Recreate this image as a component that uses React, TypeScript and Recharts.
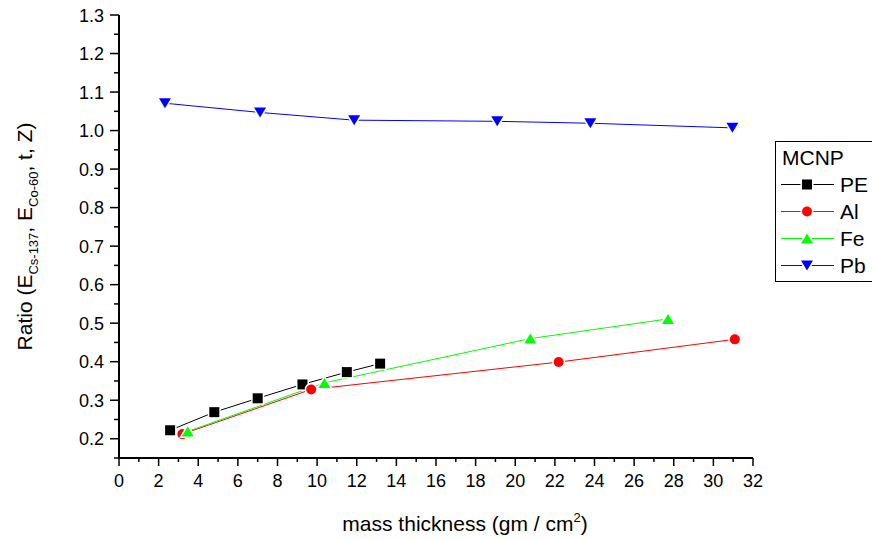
import React from "react";
import { LineChart, Line, XAxis, YAxis, Legend, Label } from "recharts";

// Mass thickness (gm / cm^2) and ratio values for each material
const peX = [2.58, 4.81, 7.0, 9.26, 11.5, 13.18];
const peY = [0.222, 0.269, 0.305, 0.341, 0.373, 0.395];

const alX = [3.2, 9.7, 22.19, 31.08];
const alY = [0.212, 0.328, 0.399, 0.458];

const feX = [3.47, 10.37, 20.76, 27.71];
const feY = [0.219, 0.345, 0.46, 0.511];

const pbX = [2.32, 7.12, 11.87, 19.09, 23.79, 30.96];
const pbY = [1.071, 1.047, 1.027, 1.024, 1.019, 1.007];

const xTicks = [0, 1, 2, 3, 4, 5, 6, 7, 8, 9, 10, 11, 12, 13, 14, 15, 16, 17, 18, 19, 20, 21, 22, 23, 24, 25, 26, 27, 28, 29, 30, 31, 32];
const yTicks = [0.15, 0.2, 0.25, 0.3, 0.35, 0.4, 0.45, 0.5, 0.55, 0.6, 0.65, 0.7, 0.75, 0.8, 0.85, 0.9, 0.95, 1.0, 1.05, 1.1, 1.15, 1.2, 1.25, 1.3];

const legendTitle = "MCNP";

type Kind = "square" | "circle" | "up" | "down";

const zip = (xs: number[], ys: number[]) => xs.map((x, i) => ({ x, y: ys[i] }));

const series = [
  { name: "PE", color: "#000000", kind: "square" as Kind, data: zip(peX, peY) },
  { name: "Al", color: "#ff0000", kind: "circle" as Kind, data: zip(alX, alY) },
  { name: "Fe", color: "#00ff00", kind: "up" as Kind, data: zip(feX, feY) },
  { name: "Pb", color: "#0000ff", kind: "down" as Kind, data: zip(pbX, pbY) },
];

const FONT = "'Liberation Sans', Arial, sans-serif";
const TICK_FONT = 18;
const TITLE_FONT = 21;

// Marker with a white halo so connecting lines stop short of the symbol
function Marker({ cx, cy, kind, color }: { cx: number; cy: number; kind: Kind; color: string }) {
  const common = { fill: color, stroke: "#ffffff", strokeWidth: 3, paintOrder: "stroke" as const };
  if (kind === "square") {
    return <rect x={cx - 5} y={cy - 5} width={10} height={10} {...common} />;
  }
  if (kind === "circle") {
    return <circle cx={cx} cy={cy} r={5} {...common} />;
  }
  if (kind === "up") {
    return <polygon points={`${cx - 6},${cy + 5} ${cx + 6},${cy + 5} ${cx},${cy - 5}`} {...common} />;
  }
  return <polygon points={`${cx - 6},${cy - 5} ${cx + 6},${cy - 5} ${cx},${cy + 5}`} {...common} />;
}

const isMajorY = (v: number) => Math.abs(v * 10 - Math.round(v * 10)) < 1e-6;

function YTick(props: any) {
  const { x, y, payload } = props;
  const v = payload.value as number;
  const major = isMajorY(v);
  return (
    <g>
      <line x1={x - (major ? 9 : 5)} x2={x} y1={y} y2={y} stroke="#000" strokeWidth={1.5} />
      {major && (
        <text x={x - 15} y={y + 6.5} textAnchor="end" fontSize={TICK_FONT} fontFamily={FONT} fill="#000">
          {v.toFixed(1)}
        </text>
      )}
    </g>
  );
}

function XTick(props: any) {
  const { x, y, payload } = props;
  const v = payload.value as number;
  const major = v % 2 === 0;
  return (
    <g>
      <line x1={x} x2={x} y1={y} y2={y + (major ? 8 : 4)} stroke="#000" strokeWidth={1.5} />
      {major && (
        <text x={x} y={y + 29} textAnchor="middle" fontSize={TICK_FONT} fontFamily={FONT} fill="#000">
          {v}
        </text>
      )}
    </g>
  );
}

function XTitle(props: any) {
  const vb = props.viewBox;
  const cx = vb.x + vb.width / 2 + 29;
  const y = vb.y + 73;
  return (
    <text x={cx} y={y} textAnchor="middle" fontSize={TITLE_FONT} fontFamily={FONT} fill="#000">
      mass thickness (gm / cm
      <tspan dy={-9} fontSize={13}>2</tspan>
      <tspan dy={9}>)</tspan>
    </text>
  );
}

function YTitle(props: any) {
  const vb = props.viewBox;
  const cx = vb.x - 27;
  const cy = vb.y + vb.height / 2;
  return (
    <text
      transform={`translate(${cx}, ${cy}) rotate(-90)`}
      textAnchor="middle"
      fontSize={TITLE_FONT}
      fontFamily={FONT}
      fill="#000"
    >
      Ratio (E
      <tspan dy={6} fontSize={13}>Cs-137</tspan>
      <tspan dy={-6}>, E</tspan>
      <tspan dy={6} fontSize={13}>Co-60</tspan>
      <tspan dy={-6}>, t, Z)</tspan>
    </text>
  );
}

function LegendBox(props: any) {
  const payload = (props.payload || []) as any[];
  const shown = series.filter((s) => payload.length === 0 || payload.some((p) => p.value === s.name));
  const rowH = 27;
  return (
    <svg width={120} height={145} style={{ display: "block", overflow: "visible" }}>
      <rect x={0.5} y={0.5} width={200} height={140} fill="#fff" stroke="#000" strokeWidth={1} />
      <text x={7} y={23.5} fontSize={TITLE_FONT} fontFamily={FONT} fill="#000">
        {legendTitle}
      </text>
      {shown.map((s, i) => {
        const cy = 43.5 + i * rowH;
        return (
          <g key={s.name}>
            <line x1={6} x2={59} y1={cy} y2={cy} stroke={s.color} strokeWidth={1} />
            <Marker cx={32} cy={cy} kind={s.kind} color={s.color} />
            <text x={65} y={cy + 7.5} fontSize={TITLE_FONT} fontFamily={FONT} fill="#000">
              {s.name}
            </text>
          </g>
        );
      })}
    </svg>
  );
}

export default function App() {
  return (
    <div
      style={{
        position: "absolute",
        left: 0,
        top: 0,
        width: 872,
        height: 539,
        overflow: "hidden",
        background: "#fff",
      }}
    >
      <LineChart
        width={872}
        height={539}
        margin={{ top: 15, right: 119, bottom: 51, left: 59 }}
      >
        <XAxis
          type="number"
          dataKey="x"
          domain={[0, 32]}
          ticks={xTicks}
          interval={0}
          allowDataOverflow
          height={30}
          tickSize={0}
          tickMargin={0}
          tickLine={false}
          tick={<XTick />}
          axisLine={{ stroke: "#000", strokeWidth: 2 }}
        >
          <Label content={<XTitle />} />
        </XAxis>
        <YAxis
          type="number"
          dataKey="y"
          domain={[0.15, 1.3]}
          ticks={yTicks}
          interval={0}
          allowDataOverflow
          width={60}
          tickSize={0}
          tickMargin={0}
          tickLine={false}
          tick={<YTick />}
          axisLine={{ stroke: "#000", strokeWidth: 2 }}
        >
          <Label content={<YTitle />} />
        </YAxis>
        <Legend
          layout="vertical"
          align="center"
          verticalAlign="middle"
          content={<LegendBox />}
          wrapperStyle={{ left: 775, top: 141, width: 120, height: 145 }}
        />
        {series.map((s) => (
          <Line
            key={s.name}
            name={s.name}
            data={s.data}
            dataKey="y"
            type="linear"
            stroke={s.color}
            strokeWidth={1}
            isAnimationActive={false}
            dot={(p: any) => (
              <Marker key={`${s.name}-${p.index}`} cx={p.cx} cy={p.cy} kind={s.kind} color={s.color} />
            )}
            activeDot={false}
            legendType="line"
          />
        ))}
      </LineChart>
    </div>
  );
}
